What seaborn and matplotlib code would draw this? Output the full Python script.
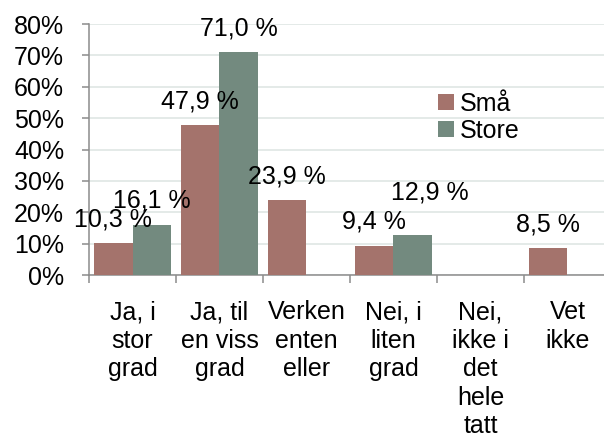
import numpy as np
import pandas as pd
import matplotlib
matplotlib.use("Agg")
import matplotlib.pyplot as plt
import seaborn as sns
from matplotlib.ticker import PercentFormatter, FixedLocator

categories = ["Ja, i\nstor\ngrad", "Ja, til\nen viss\ngrad", "Verken\nenten\neller",
              "Nei, i\nliten\ngrad", "Nei,\nikke i\ndet\nhele\ntatt", "Vet\nikke"]
sma = [10.3, 47.9, 23.9, 9.4, np.nan, 8.5]
store = [16.1, 71.0, np.nan, 12.9, np.nan, np.nan]
groups = ["Små", "Store"]
colors = ["#AE6C62", "#6F8E7F"]

df = pd.DataFrame({
    "kategori": categories * 2,
    "gruppe": ["Små"] * len(categories) + ["Store"] * len(categories),
    "andel": sma + store,
})
df = df.dropna()

sns.set_style("white")
plt.rcParams["font.family"] = ["Liberation Sans", "DejaVu Sans"]
plt.rcParams["text.color"] = "black"
plt.rcParams["xtick.labelcolor"] = "black"
plt.rcParams["ytick.labelcolor"] = "black"
FS = 18

fig = plt.figure(figsize=(6.04, 4.38), dpi=100)
# plot area runs a little past the right edge of the figure, like the original
ax = fig.add_axes([0.1474, 0.372, 0.864, 0.573])

sns.barplot(data=df, x="kategori", y="andel", hue="gruppe", order=categories,
            hue_order=groups, palette=colors, width=0.885, gap=0, ax=ax,
            errorbar=None, edgecolor="none", linewidth=0, zorder=3)

for cont in ax.containers:
    for bar in cont:
        h = bar.get_height()
        if np.isnan(h):
            continue
        lbl = f"{h:.1f} %".replace(".", ",")
        # the 12,9 label is nudged up/right in the original
        off = (12, 30) if lbl == "12,9 %" else (0, 17)
        ax.annotate(lbl, (bar.get_x() + bar.get_width() / 2, h),
                    xytext=off, textcoords="offset points",
                    ha="center", va="center", fontsize=FS, color="black", zorder=5)

ax.set_ylim(0, 80)
ax.set_xlim(-0.5, 5.5)
ax.set_yticks(range(0, 81, 10))
ax.yaxis.set_major_formatter(PercentFormatter(100, decimals=0))
ax.yaxis.grid(True, color="#DCE4E1", linewidth=1.1, zorder=0)
ax.set_axisbelow(True)

ax.xaxis.set_minor_locator(FixedLocator([-0.5, 0.5, 1.5, 2.5, 3.5, 4.5]))
ax.tick_params(axis="x", which="major", length=0, pad=18, labelsize=FS)
ax.tick_params(axis="x", which="minor", length=6, width=1.1, color="#8C8C8C", direction="out", bottom=True)
ax.tick_params(axis="y", length=5, width=1.1, color="#8C8C8C", direction="out", left=True, pad=13, labelsize=FS)
for lab in ax.get_xticklabels():
    lab.set_multialignment("center")
    lab.set_linespacing(1.24)

ax.set_xlabel("")
ax.set_ylabel("")
for s in ["top", "right"]:
    ax.spines[s].set_visible(False)
for s in ["left", "bottom"]:
    ax.spines[s].set_color("#8C8C8C")
    ax.spines[s].set_linewidth(1.1)

ax.legend(loc="upper left", bbox_to_anchor=(0.668, 0.73), frameon=False, fontsize=FS,
          handlelength=0.65, handleheight=0.65, handletextpad=0.25, labelspacing=0.12,
          borderpad=0, borderaxespad=0)

fig.savefig("out.png", dpi=100)
